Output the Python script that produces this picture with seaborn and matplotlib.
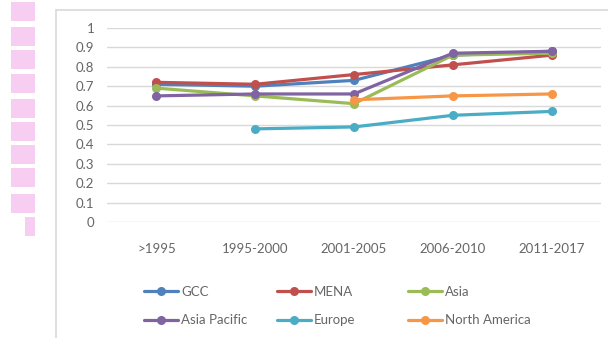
import numpy as np
import pandas as pd
import matplotlib
matplotlib.use("Agg")
import matplotlib.pyplot as plt
from matplotlib.patches import Rectangle
from matplotlib.lines import Line2D
import seaborn as sns

periods = [">1995", "1995-2000", "2001-2005", "2006-2010", "2011-2017"]
regions = ["GCC", "MENA", "Asia", "Asia Pacific", "Europe", "North America"]

gcc = [0.71, 0.70, 0.73, 0.86, 0.88]
mena = [0.72, 0.71, 0.76, 0.81, 0.86]
asia = [0.69, 0.65, 0.61, 0.86, 0.87]
asia_pacific = [0.65, 0.66, 0.66, 0.87, 0.88]
europe = [np.nan, 0.48, 0.49, 0.55, 0.57]
north_america = [np.nan, np.nan, 0.63, 0.65, 0.66]

colors = ["#4F81BD", "#C0504D", "#9BBB59", "#8064A2", "#4BACC6", "#F79646"]

series = [gcc, mena, asia, asia_pacific, europe, north_america]
rows = []
for name, vals in zip(regions, series):
    for p, v in zip(periods, vals):
        rows.append({"period": p, "region": name, "value": v})
df = pd.DataFrame(rows).dropna()

sns.set_theme(style="white")
plt.rcParams["font.family"] = ["Lato", "DejaVu Sans"]

W, H = 608, 338
fig = plt.figure(figsize=(W / 100, H / 100), dpi=100)
ax = fig.add_axes([107 / W, 1 - 222 / H, (601 - 107) / W, (222 - 28) / H])

sns.lineplot(data=df, x="period", y="value", hue="region", hue_order=regions,
             palette=colors, marker="o", markersize=6.5, markeredgewidth=0,
             linewidth=2.3, sort=False, ax=ax, legend=True)

handles, labels = ax.get_legend_handles_labels()
ax.get_legend().remove()

ax.set_xlim(-0.5, len(periods) - 0.5)
ax.set_ylim(0, 1)
ax.set_yticks(np.arange(0, 1.01, 0.1))
ax.set_yticklabels(["0"] + [f"{v:.1f}" for v in np.arange(0.1, 0.95, 0.1)] + ["1"])
ax.set_xlabel("")
ax.set_ylabel("")
ax.grid(axis="y", color="#D9D9D9", linewidth=1)
ax.grid(axis="x", visible=False)
for s in ax.spines.values():
    s.set_visible(False)
ax.tick_params(axis="both", length=0, labelsize=9.5, labelcolor="#666666")
ax.tick_params(axis="y", pad=9)
ax.tick_params(axis="x", pad=15)

# legend laid out in three fixed-width columns
col_x = [144, 277, 408]
for c in range(3):
    hs = [handles[c], handles[c + 3]]
    ls = [labels[c], labels[c + 3]]
    hs = [Line2D([], [], color=h.get_color(), marker="o", markersize=6.5,
                 markeredgewidth=0, linewidth=2.3) for h in hs]
    fig.legend(hs, ls, loc="upper left",
               bbox_to_anchor=(col_x[c] / W, 1 - 286 / H),
               frameon=False, borderpad=0, borderaxespad=0,
               handlelength=2.6, handletextpad=0.2, labelspacing=1.25,
               fontsize=9.5, labelcolor="#666666")

# outer chart frame
fig.add_artist(Line2D([56 / W, 56 / W], [0, 1 - 10 / H], color="#D9D9D9",
                      linewidth=1.2, transform=fig.transFigure))
fig.add_artist(Line2D([56 / W, 1], [1 - 10 / H, 1 - 10 / H], color="#D9D9D9",
                      linewidth=1.2, transform=fig.transFigure))

# pink blocks down the left margin
blocks = [(2, 21), (27, 46), (50, 69), (74, 93), (99, 118),
          (122, 141), (145, 164), (168, 187), (194, 213)]
for y0, y1 in blocks:
    fig.add_artist(Rectangle((11 / W, 1 - y1 / H), 24 / W, (y1 - y0) / H,
                             transform=fig.transFigure, color="#F8CDF2", lw=0))
fig.add_artist(Rectangle((25 / W, 1 - 236 / H), 10 / W, 19 / H,
                         transform=fig.transFigure, color="#F8CDF2", lw=0))

fig.savefig("out.png", dpi=100)
